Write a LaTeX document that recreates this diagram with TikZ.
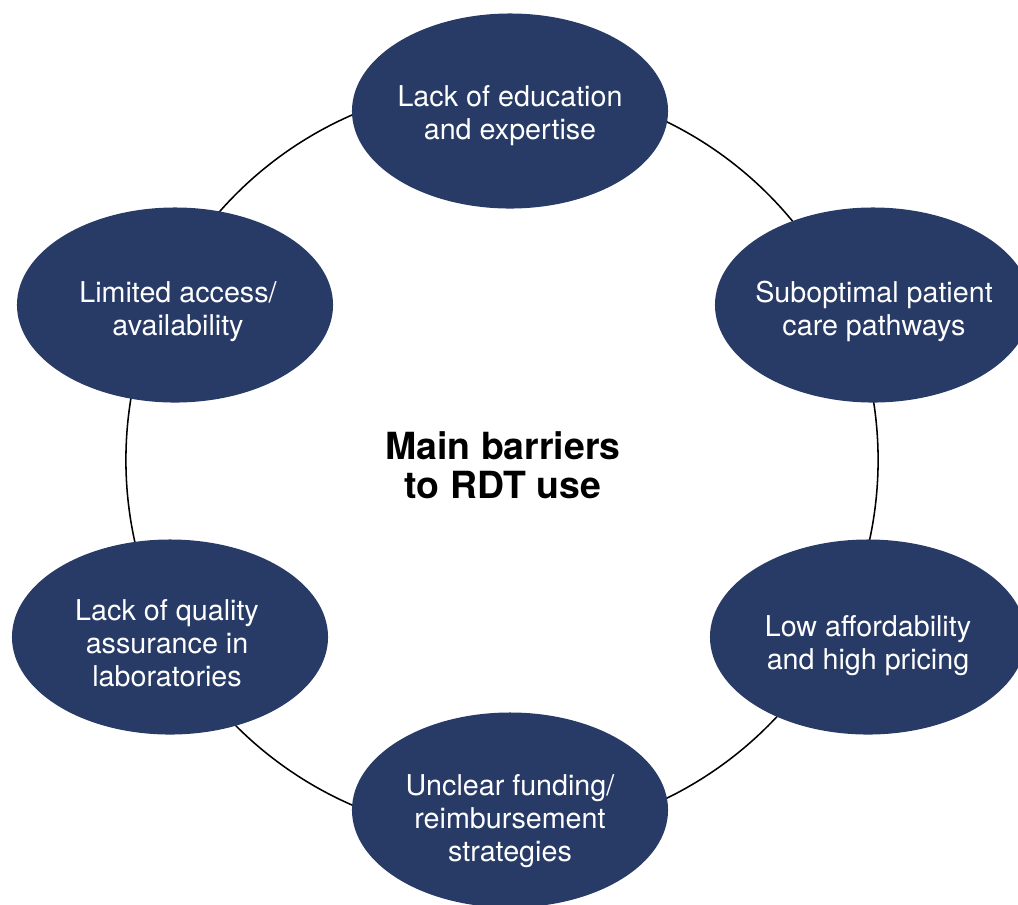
\documentclass[tikz,border=0pt]{standalone}
\usepackage{fontspec}
\setmainfont{TeX Gyre Heros}
\usepackage{xcolor}
\usetikzlibrary{shapes.geometric}
\definecolor{barriernavy}{HTML}{283B67}

\begin{document}
\begin{tikzpicture}[x=0.025cm, y=-0.025cm,
        barrier/.style={ellipse, fill=barriernavy, minimum width=7.9cm, minimum height=4.875cm, inner sep=0pt},
        btext/.style={text=white, align=center, font=\fontsize{20.4}{23.5}\selectfont},
        title/.style={align=center, font=\fontsize{26.6}{28}\selectfont\bfseries}]
        \useasboundingbox (0,0) rectangle (1018,904);
        \clip (0,0) rectangle (1018,904);
        % ring behind the six barriers
        \coordinate (hub) at (502,460);
        \draw [line width=1.1pt] (hub) circle (9.4cm);
        \node [title] (main) at (503,465) {Main barriers\\to RDT use};
        % the barriers, clockwise from the top
        \node [barrier] (edu) at (510,111) {};
        \node [barrier] (care) at (873,305) {};
        \node [barrier] (cost) at (868,637) {};
        \node [barrier] (fund) at (510,810) {};
        \node [barrier] (qa) at (170,637) {};
        \node [barrier] (access) at (175,305) {};
        \node [btext] (edutxt) at (510,116) {Lack of education\\and expertise};
        \node [btext] (caretxt) at (874,311) {Suboptimal patient\\care pathways};
        \node [btext] (costtxt) at (868,646) {Low affordability\\and high pricing};
        \node [btext] (fundtxt) at (510,821) {Unclear funding/\\reimbursement\\strategies};
        \node [btext] (qatxt) at (167,643) {Lack of quality\\assurance in\\laboratories};
        \node [btext] (accesstxt) at (178,312) {Limited access/\\availability};
\end{tikzpicture}
\end{document}
